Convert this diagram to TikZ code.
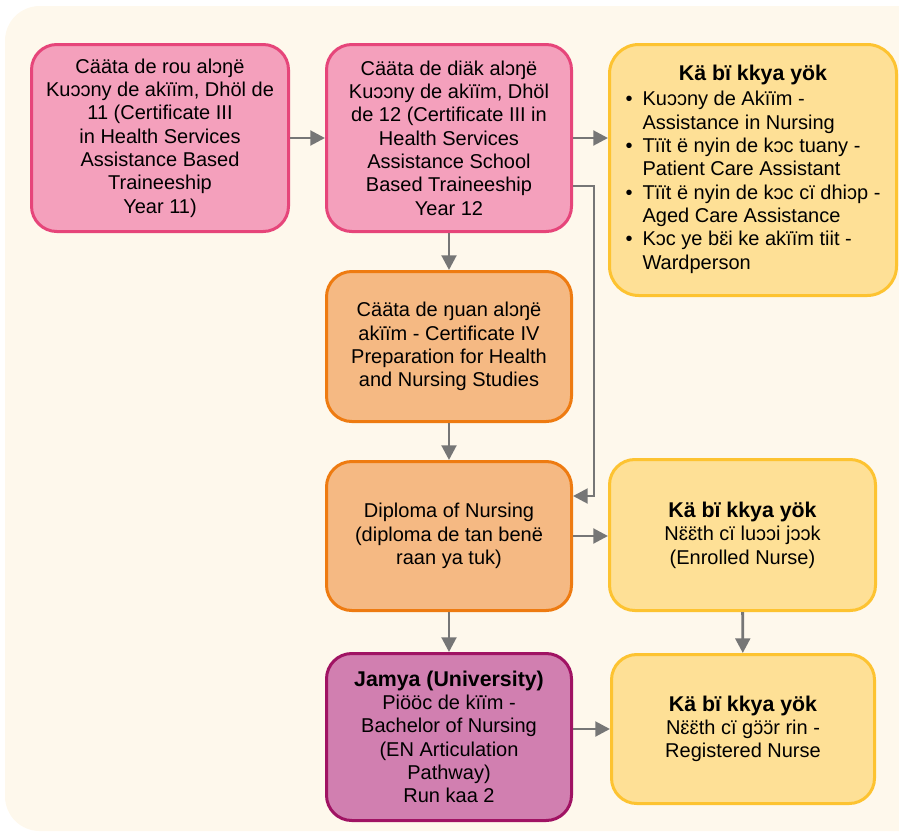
\documentclass[tikz,border=0pt]{standalone}
\usepackage{fontspec}
\setmainfont{Liberation Sans}
\usetikzlibrary{arrows.meta}
\definecolor{bgcream}{HTML}{FEF8EC}
\definecolor{pinkfill}{HTML}{F4A0BC}
\definecolor{pinkline}{HTML}{E6457A}
\definecolor{orangefill}{HTML}{F5B983}
\definecolor{orangeline}{HTML}{EE7B11}
\definecolor{yellowfill}{HTML}{FEE096}
\definecolor{yellowline}{HTML}{FDC331}
\definecolor{purplefill}{HTML}{D17FB0}
\definecolor{purpleline}{HTML}{A01363}
\definecolor{arrowgray}{HTML}{767676}
\newcommand{\boxtitle}[1]{{\fontsize{16}{17.5}\selectfont\bfseries #1}}
\begin{document}
\begin{tikzpicture}[x=0.75pt,y=0.75pt]
            \tikzstyle{every node}+=[inner sep=0pt, align=center, font=\fontsize{15}{17.5}\selectfont]
            \tikzstyle{box}=[rectangle, rounded corners=19pt, line width=2.25pt]
            \tikzstyle{pinkbox}=[box, draw=pinkline, fill=pinkfill]
            \tikzstyle{orangebox}=[box, draw=orangeline, fill=orangefill]
            \tikzstyle{yellowbox}=[box, draw=yellowline, fill=yellowfill]
            \tikzstyle{purplebox}=[box, draw=purpleline, fill=purplefill]
            \tikzstyle{arrow}=[draw=arrowgray, line width=2.2pt, -{Triangle[length=11pt,width=11pt]}]
            \useasboundingbox (0,0) rectangle (899,-832);
            \fill [bgcream, rounded corners=26pt] (5,-6) rectangle (940,-831);
            \node [pinkbox, minimum width=192.75pt, minimum height=140.25pt] (yr11) at (160,-138)
                {Cääta de rou alɔŋë\\Kuɔɔny de akïïm, Dhöl de\\11 (Certificate III\\in Health Services\\Assistance Based\\Traineeship\\Year 11)};
            \node [pinkbox, minimum width=183.75pt, minimum height=140.25pt] (yr12) at (449,-138)
                {Cääta de diäk alɔŋë\\Kuɔɔny de akïïm, Dhöl\\de 12 (Certificate III in\\Health Services\\Assistance School\\Based Traineeship\\Year 12};
            \node [yellowbox, rounded corners=22pt, minimum width=215.25pt, minimum height=188.25pt] (jobs) at (753,-170)
                {\begin{tabular}{@{}c@{\hspace{7.5pt}}l@{}}
                 \multicolumn{2}{c}{\boxtitle{Kä bï kkya yök}}\\[1.5pt]
                 \textbullet & Kuɔɔny de Akïïm -\\
                             & Assistance in Nursing\\
                 \textbullet & Tïït ë nyin de kɔc tuany -\\
                             & Patient Care Assistant\\
                 \textbullet & Tïït ë nyin de kɔc cï dhiɔp -\\
                             & Aged Care Assistance\\
                 \textbullet & Kɔc ye bɛ̈i ke akïïm tiit -\\
                             & Wardperson
                 \end{tabular}};
            \node [orangebox, minimum width=183.75pt, minimum height=112.5pt] (cert4) at (449,-346.5)
                {Cääta de ŋuan alɔŋë\\akïïm - Certificate IV\\Preparation for Health\\and Nursing Studies};
            \node [orangebox, minimum width=183.75pt, minimum height=111.75pt] (diploma) at (449,-536)
                {Diploma of Nursing\\(diploma de tan benë\\raan ya tuk)};
            \node [yellowbox, minimum width=199.5pt, minimum height=113.25pt] (enrolled) at (742.5,-535)
                {\boxtitle{Kä bï kkya yök}\\Nɛ̈ɛ̈th cï luɔɔi jɔɔk\\(Enrolled Nurse)};
            \node [purplebox, minimum width=183.75pt, minimum height=125.25pt] (uni) at (449,-737)
                {\boxtitle{Jamya (University)}\\Piööc de kïïm -\\Bachelor of Nursing\\(EN Articulation\\Pathway)\\Run kaa 2};
            \node [yellowbox, minimum width=197.25pt, minimum height=111.75pt] (registered) at (743,-729)
                {\boxtitle{Kä bï kkya yök}\\Nɛ̈ɛ̈th cï gɔ̈ɔ̈r rin -\\Registered Nurse};
            \draw [arrow] (yr11) -- (yr12);
            \draw [arrow] (yr12.east) -- (jobs.west |- yr12.east);
            \draw [arrow] (yr12) -- (cert4);
            \draw [arrow] ([yshift=-36pt]yr12.east) -| ([xshift=15.75pt,yshift=30pt]diploma.east) -- ([yshift=30pt]diploma.east);
            \draw [arrow] (cert4) -- (diploma);
            \draw [arrow] (diploma) -- (enrolled.west |- diploma.east);
            \draw [arrow] (diploma) -- (uni);
            \draw [arrow] (enrolled) -- (registered);
            \draw [arrow] (uni.east |- registered.west) -- (registered.west);
\end{tikzpicture}
\end{document}
